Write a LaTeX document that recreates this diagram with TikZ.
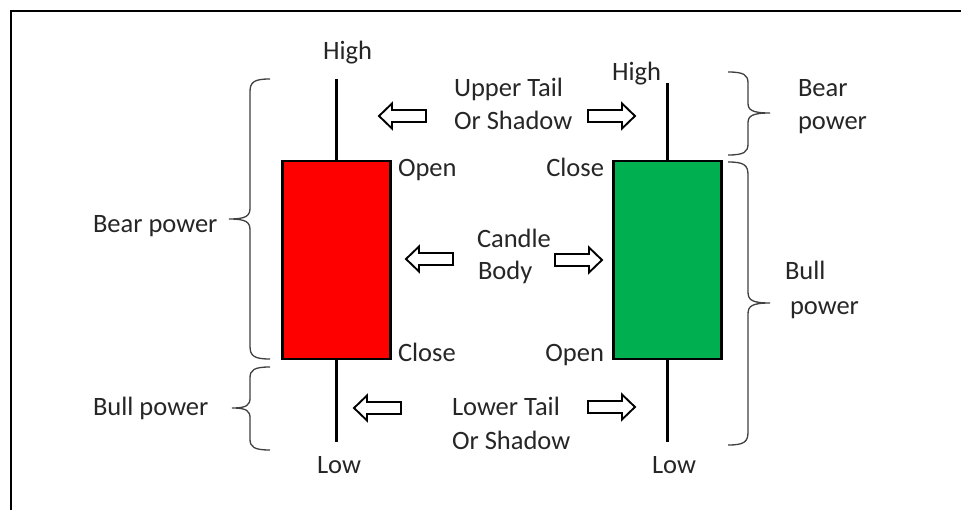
\documentclass[tikz,border=0pt]{standalone}
\usepackage{fontspec}
\setmainfont{Carlito}
\definecolor{candlered}{HTML}{FF0000}
\definecolor{candlegreen}{HTML}{00B050}
\definecolor{txt}{HTML}{262626}
\begin{document}
\begin{tikzpicture}[x=1pt,y=-1pt,
  lbl/.style={inner sep=0pt, outer sep=0pt, anchor=base west, text=txt, font=\fontsize{26.5}{30}\selectfont},
  body/.style={draw=black, line width=2.4pt, minimum width=108pt, minimum height=198pt, inner sep=0pt, outer sep=0pt},
  wick/.style={line width=2.4pt, black},
  brace/.style={draw=black!75, line width=1.3pt},
  blockarr/.pic={\draw[line width=1.9pt, line join=miter, fill=white] (0,-6) -- (34,-6) -- (34,-12.5) -- (47,0) -- (34,12.5) -- (34,6) -- (0,6) -- cycle;}
]
\useasboundingbox (0,0) rectangle (961,510);
\fill[white] (0,0) rectangle (961,510);
% frame
\draw[line width=1.6pt] (11,510) -- (11,11) -- (961,11);

% candles
\node[body, fill=candlered] (redbody) at (336.5,260) {};
\node[body, fill=candlegreen] (greenbody) at (667.5,260) {};
\coordinate (redhigh) at (336.5,79);
\coordinate (redlow) at (336.5,442);
\coordinate (greenhigh) at (667.5,83);
\coordinate (greenlow) at (667.5,442);
\draw[wick] (redbody.north) -- (redhigh);
\draw[wick] (redbody.south) -- (redlow);
\draw[wick] (greenbody.north) -- (greenhigh);
\draw[wick] (greenbody.south) -- (greenlow);

% labels
\node[lbl] (hl) at (323,60) {High};
\node[lbl] (hr) at (612,81) {High};
\node[lbl] (ol) at (398,177) {Open};
\node[lbl] (cl) at (398,362) {Close};
\node[lbl, anchor=base east] (cr) at (604,177) {Close};
\node[lbl, anchor=base east] (or) at (604,362) {Open};
\node[lbl] (ut1) at (454,97) {Upper Tail};
\node[lbl] (ut2) at (454,130) {Or Shadow};
\node[lbl] (cb1) at (477,248) {Candle};
\node[lbl] (cb2) at (478,280) {Body};
\node[lbl] (lt1) at (452,415) {Lower Tail};
\node[lbl] (lt2) at (452,449) {Or Shadow};
\node[lbl] (bearl) at (93,233) {Bear power};
\node[lbl] (bulll) at (93,415) {Bull power};
\node[lbl] (bearr1) at (798,97) {Bear};
\node[lbl] (bearr2) at (798,130) {power};
\node[lbl] (bullr1) at (785,280) {Bull};
\node[lbl] (bullr2) at (790,315) {power};
\node[lbl] (lowl) at (317,473) {Low};
\node[lbl] (lowr) at (652,473) {Low};

% block arrows
\pic[xscale=-1] at (426,116) {blockarr};
\pic at (588,116) {blockarr};
\pic[xscale=-1] at (453,259) {blockarr};
\pic at (555,260) {blockarr};
\pic[xscale=-1] at (401,408) {blockarr};
\pic at (588,407) {blockarr};

% braces
\draw[brace] (270,79) .. controls (254,79) and (250,82) .. (250,92) -- (250,208)
  .. controls (250,216) and (246,219) .. (229,219)
  .. controls (246,219) and (250,222) .. (250,230) -- (250,346)
  .. controls (250,356) and (254,359) .. (270,359);
\draw[brace] (270,367) .. controls (254,367) and (250,370) .. (250,378) -- (250,398)
  .. controls (250,405) and (247,408) .. (232,408)
  .. controls (247,408) and (250,411) .. (250,418) -- (250,439)
  .. controls (250,447) and (254,450) .. (270,450);
\draw[brace] (728,72) .. controls (744,72) and (748,75) .. (748,83) -- (748,103)
  .. controls (748,110) and (752,113) .. (770,113)
  .. controls (752,113) and (748,116) .. (748,123) -- (748,144)
  .. controls (748,152) and (744,155) .. (728,155);
\draw[brace] (728,162) .. controls (744,162) and (748,165) .. (748,175) -- (748,292)
  .. controls (748,300) and (752,303) .. (770,303)
  .. controls (752,303) and (748,306) .. (748,314) -- (748,432)
  .. controls (748,442) and (744,445) .. (728,445);
\end{tikzpicture}
\end{document}
